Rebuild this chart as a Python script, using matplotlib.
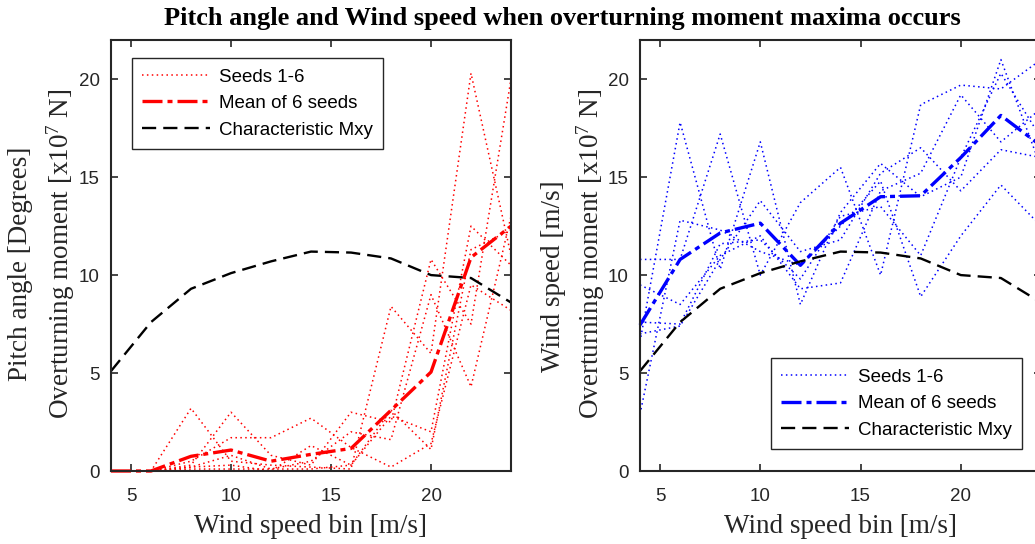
import matplotlib
matplotlib.use('Agg')
import matplotlib.pyplot as plt
import numpy as np

wind_bins = [4, 6, 8, 10, 12, 14, 16, 18, 20, 22, 24]

# characteristic overturning moment [x10^7 N]
char_mxy = [5.1, 7.6, 9.3, 10.1, 10.7, 11.2, 11.15, 10.85, 10.0, 9.85, 8.6]

# pitch angle at overturning moment maxima [deg]
pitch_seed1 = [0, 0, 3.2, 0.5, 0.3, 0.2, 0.1, 8.4, 6.0, 20.3, 11.0]
pitch_seed2 = [0, 0, 0.3, 3.0, 0.8, 0.3, 3.0, 2.5, 10.8, 7.5, 20.0]
pitch_seed3 = [0, 0, 0.5, 1.7, 1.7, 2.7, 1.2, 0.2, 1.4, 9.5, 8.2]
pitch_seed4 = [0, 0, 0.2, 0.8, 0.1, 0.5, 2.0, 1.6, 9.0, 4.3, 13.0]
pitch_seed5 = [0, 0, 0.2, 0.3, 0.0, 1.3, 0.3, 2.8, 2.0, 12.5, 10.5]
pitch_seed6 = [0, 0, 0.1, 0.1, 0.1, 0.1, 0.3, 3.1, 1.1, 11.3, 12.3]
pitch_mean = [0, 0, 0.75, 1.07, 0.5, 0.85, 1.15, 3.1, 5.05, 10.9, 12.5]

# wind speed at overturning moment maxima [m/s]
wind_seed1 = [10.8, 10.8, 17.2, 10.0, 13.7, 15.5, 10.0, 18.7, 19.7, 19.5, 21.0]
wind_seed2 = [6.6, 17.8, 10.3, 16.8, 8.5, 13.2, 15.7, 14.0, 15.0, 21.0, 15.5]
wind_seed3 = [2.9, 12.8, 12.3, 11.2, 10.5, 12.5, 14.8, 8.9, 12.0, 14.6, 12.5]
wind_seed4 = [9.5, 8.5, 11.0, 12.0, 9.3, 9.6, 14.3, 15.2, 19.2, 16.8, 18.5]
wind_seed5 = [7.6, 7.5, 11.6, 11.8, 9.8, 13.0, 13.5, 11.0, 16.0, 20.3, 17.0]
wind_seed6 = [7.0, 7.4, 10.8, 13.8, 11.2, 11.8, 15.2, 16.5, 14.3, 16.4, 16.0]
wind_mean = [7.45, 10.8, 12.15, 12.65, 10.5, 12.65, 14.0, 14.05, 16.0, 18.15, 16.6]

pitch_seeds = [pitch_seed1, pitch_seed2, pitch_seed3, pitch_seed4, pitch_seed5, pitch_seed6]
wind_seeds = [wind_seed1, wind_seed2, wind_seed3, wind_seed4, wind_seed5, wind_seed6]

plt.rcParams['font.family'] = ['Liberation Sans', 'DejaVu Sans']
plt.rcParams['mathtext.fontset'] = 'custom'
plt.rcParams['mathtext.rm'] = 'Liberation Serif'
plt.rcParams['mathtext.it'] = 'Liberation Serif:italic'

serif = 'Liberation Serif'
lab_size = 19.5
W, H = 1035, 544
fig = plt.figure(figsize=(W / 100, H / 100), dpi=100)

ax1 = fig.add_axes([111 / W, 1 - 471 / H, 400 / W, 431 / H])
ax2 = fig.add_axes([640 / W, 1 - 471 / H, 401 / W, 431 / H])


def draw(ax, seeds, mean, col, leg_loc, leg_anchor):
    for i, s in enumerate(seeds):
        ax.plot(wind_bins, s, color=col, linestyle=(0, (1, 2.2)), lw=1.1,
                label='Seeds 1-6' if i == 0 else None, clip_on=False)
    ax.plot(wind_bins, mean, color=col, linestyle=(0, (6, 1.5, 1.5, 1.5)), lw=2.4,
            label='Mean of 6 seeds', clip_on=False)
    ax.plot(wind_bins, char_mxy, color='black', linestyle=(0, (6, 3)), lw=1.7,
            label='Characteristic Mxy')
    ax.set_xlim(4, 24)
    ax.set_ylim(0, 22)
    ax.set_xticks([5, 10, 15, 20])
    ax.set_yticks([0, 5, 10, 15, 20])
    ax.tick_params(direction='in', length=5, width=1.2, labelsize=13.5,
                   top=True, right=True, colors='#262626', pad=8)
    ax.tick_params(axis='x', pad=12)
    for sp in ax.spines.values():
        sp.set_linewidth(1.5)
        sp.set_color('#262626')
    ax.set_xlabel('Wind speed bin [m/s]', fontfamily=serif, fontsize=lab_size,
                  color='#262626', labelpad=7)
    leg = ax.legend(loc=leg_loc, bbox_to_anchor=leg_anchor, borderaxespad=0,
                    fancybox=False, fontsize=13.5, handlelength=3.6,
                    handletextpad=0.5, edgecolor='#262626', framealpha=1,
                    borderpad=0.55, labelspacing=0.5)
    leg.get_frame().set_linewidth(1.0)


draw(ax1, pitch_seeds, pitch_mean, 'red', 'upper left', (0.0525, 0.958))
draw(ax2, wind_seeds, wind_mean, 'blue', 'lower right', (0.953, 0.051))

ylab2 = 'Overturning moment [x10$^{7}$ N]'
fig.text(21 / W, 1 - 264 / H, 'Pitch angle [Degrees]', rotation=90, ha='center',
         va='center', fontfamily=serif, fontsize=lab_size, color='#262626')
fig.text(61 / W, 1 - 254 / H, ylab2, rotation=90, ha='center',
         va='center', fontfamily=serif, fontsize=lab_size, color='#262626')
fig.text(553 / W, 1 - 276 / H, 'Wind speed [m/s]', rotation=90, ha='center',
         va='center', fontfamily=serif, fontsize=lab_size, color='#262626')
fig.text(591 / W, 1 - 254 / H, ylab2, rotation=90, ha='center',
         va='center', fontfamily=serif, fontsize=lab_size, color='#262626')

fig.text(562 / W, 1 - 18 / H, 'Pitch angle and Wind speed when overturning moment maxima occurs',
         ha='center', va='center', fontfamily=serif, fontweight='bold', fontsize=19)

fig.savefig('out.png', dpi=100)
